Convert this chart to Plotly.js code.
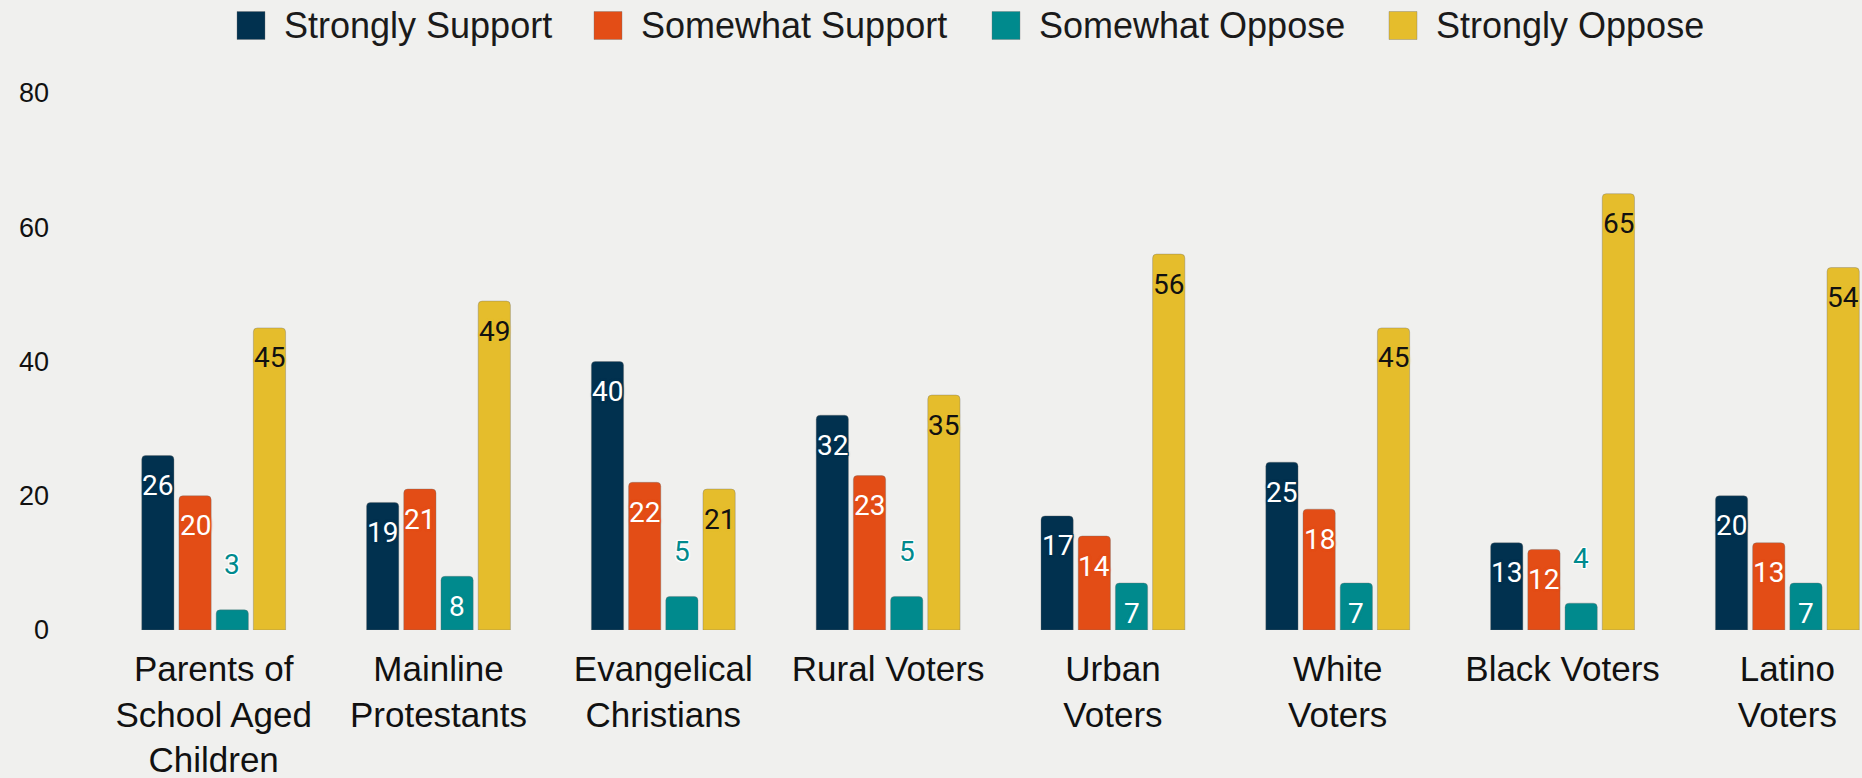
<!DOCTYPE html>
<html>
<head>
<meta charset="utf-8">
<script src="https://cdn.plot.ly/plotly-3.0.1.min.js"></script>
<style>
  html, body { margin: 0; padding: 0; background: #f0f0ee; }
  #chart { width: 1862px; height: 778px; }
</style>
</head>
<body>
<div id="chart"></div>
<script>
// ---- data ----
const categories = [
  "Parents of<br>School Aged<br>Children",
  "Mainline<br>Protestants",
  "Evangelical<br>Christians",
  "Rural Voters",
  "Urban<br>Voters",
  "White<br>Voters",
  "Black Voters",
  "Latino<br>Voters"
];
const seriesNames = ["Strongly Support", "Somewhat Support", "Somewhat Oppose", "Strongly Oppose"];
const stronglySupport = [26, 19, 40, 32, 17, 25, 13, 20];
const somewhatSupport = [20, 21, 22, 23, 14, 18, 12, 13];
const somewhatOppose  = [3, 8, 5, 5, 7, 7, 4, 7];
const stronglyOppose  = [45, 49, 21, 35, 56, 45, 65, 54];
const yTickValues = [0, 20, 40, 60, 80];

// ---- styling ----
const seriesValues = [stronglySupport, somewhatSupport, somewhatOppose, stronglyOppose];
const colors = ["#01314f", "#e34d16", "#008a8d", "#e5bd2c"];
const insideTextColors = ["#ffffff", "#ffffff", "#ffffff", "#111111"];
const W = 1862, H = 778;
const M = {l: 50, r: 0, t: 93, b: 148};
const plotW = W - M.l - M.r, plotH = H - M.t - M.b;
const slotPx = 37.2;          // pixel width of one bar slot inside a group
const smallThreshold = 5;     // labels of bars this short are placed above the bar
const baseFont = "Liberation Sans, Arial, sans-serif";

const traces = seriesValues.map((vals, i) => ({
  type: "bar",
  name: seriesNames[i],
  x: categories,
  y: vals,
  marker: {color: colors[i], cornerradius: 4, line: {color: "rgba(110,110,110,0.35)", width: 1}},
  showlegend: false,
  hovertemplate: "%{fullData.name}: %{y}<extra></extra>"
}));

function halo(c) {
  return `1px 1px 0 ${c}, -1px -1px 0 ${c}, 1px -1px 0 ${c}, -1px 1px 0 ${c}, 0 0 3px ${c}, 0 0 3px ${c}`;
}

const annotations = [];
seriesValues.forEach((vals, i) => {
  vals.forEach((v, k) => {
    const outside = v <= smallThreshold;
    annotations.push({
      xref: "x", yref: "y",
      x: categories[k], y: v,
      xshift: (i - 1.5) * slotPx,
      yshift: outside ? 45 : -30,
      yanchor: "middle", xanchor: "center",
      showarrow: false,
      text: String(v),
      font: {
        family: "Roboto, sans-serif", size: 28,
        color: outside ? colors[i] : insideTextColors[i],
        shadow: outside ? halo("#ffffff") : halo(colors[i])
      }
    });
  });
});

// custom legend (large square swatches)
const legendLeftPx = [237, 594, 992, 1389];
const legendCenterPx = 25.5;
const swatch = 28;
const shapes = [];
const px2x = px => (px - M.l) / plotW;
const py2y = py => (H - M.b - py) / plotH;
seriesNames.forEach((name, i) => {
  shapes.push({
    type: "rect", xref: "paper", yref: "paper",
    x0: px2x(legendLeftPx[i]), x1: px2x(legendLeftPx[i] + swatch),
    y0: py2y(legendCenterPx + swatch / 2), y1: py2y(legendCenterPx - swatch / 2),
    fillcolor: colors[i], line: {color: "rgba(110,110,110,0.35)", width: 1}
  });
  annotations.push({
    xref: "paper", yref: "paper",
    x: px2x(legendLeftPx[i] + swatch + 17), y: py2y(legendCenterPx),
    xanchor: "left", yanchor: "middle", showarrow: false,
    text: name,
    font: {family: baseFont, size: 36, color: "#1a1a1a"}
  });
});

const layout = {
  width: W, height: H,
  margin: M,
  paper_bgcolor: "#f0f0ee",
  plot_bgcolor: "#f0f0ee",
  barmode: "group",
  bargap: 0.338,
  bargroupgap: 0.134,
  showlegend: false,
  font: {family: baseFont, color: "#111111"},
  xaxis: {
    type: "category",
    range: [-0.728, 7.332],
    showgrid: false, zeroline: false, showline: false, ticks: "",
    tickfont: {family: baseFont, size: 35, color: "#111111"},
    ticklabelstandoff: 15,
    automargin: false
  },
  yaxis: {
    range: [0, 80],
    tickvals: yTickValues,
    showgrid: false, zeroline: false, showline: false, ticks: "",
    tickfont: {family: baseFont, size: 27, color: "#111111"},
    automargin: false
  },
  annotations: annotations,
  shapes: shapes
};

Plotly.newPlot("chart", traces, layout, {displayModeBar: false, responsive: false});
</script>
</body>
</html>
